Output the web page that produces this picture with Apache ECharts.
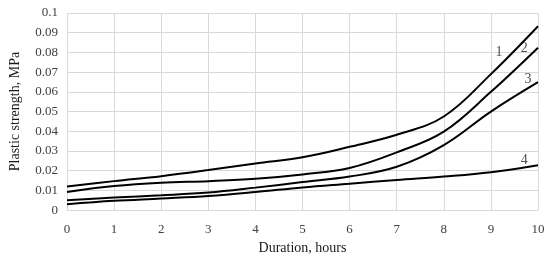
<!DOCTYPE html>
<html><head><meta charset="utf-8">
<script src="https://cdn.jsdelivr.net/npm/echarts@6/dist/echarts.min.js"></script>
<style>html,body{margin:0;padding:0;background:#fff}#c{width:550px;height:260px}</style>
</head><body><div id="c"></div>
<script>
const hours = [0,1,2,3,4,5,6,7,8,9,10];
const curve1 = [0.0120,0.0147,0.0172,0.0203,0.0237,0.0268,0.0321,0.0382,0.0475,0.0690,0.0933];
const curve2 = [0.0092,0.0122,0.0139,0.0147,0.0159,0.0181,0.0214,0.0293,0.0398,0.0600,0.0824];
const curve3 = [0.0050,0.0064,0.0075,0.0089,0.0114,0.0142,0.0170,0.0220,0.0330,0.0500,0.0649];
const curve4 = [0.0030,0.0047,0.0059,0.0072,0.0092,0.0115,0.0134,0.0153,0.0170,0.0192,0.0228];
const curveNames = ['1','2','3','4'];
const labelX = [9.17,9.71,9.79,9.71];
const labelY = [0.080,0.082,0.0665,0.0254];
const xTicks = [0,1,2,3,4,5,6,7,8,9,10];
const yTicks = [0,0.01,0.02,0.03,0.04,0.05,0.06,0.07,0.08,0.09,0.1];

const font = '"Liberation Serif","Times New Roman",serif';
const curves = [curve1,curve2,curve3,curve4];
const series = curves.map((c,i)=>({
  type:'line', smooth:0.38, symbol:'none',
  lineStyle:{color:'#000',width:2},
  data: hours.map((h,j)=>[h,c[j]])
}));
series.push({
  type:'scatter', symbolSize:0,
  data: curveNames.map((n,i)=>({value:[labelX[i],labelY[i]],name:n})),
  label:{show:true,formatter:p=>p.name,position:'inside',color:'#222',fontFamily:font,fontSize:14}
});
const chart = echarts.init(document.getElementById('c'));
chart.setOption({
  animation:false,
  grid:{left:59,right:12,top:13,bottom:47},
  xAxis:{type:'value',min:0,max:10,interval:1,
    name:'Duration, hours',nameLocation:'middle',nameGap:30,
    nameTextStyle:{fontFamily:font,fontSize:14,color:'#1a1a1a'},
    axisLine:{show:true,lineStyle:{color:'#d9d9d9'}},axisTick:{show:false},
    axisLabel:{margin:13,fontFamily:font,fontSize:13,color:'#404040',formatter:v=>xTicks.includes(v)?String(v):''},
    splitLine:{show:true,lineStyle:{color:'#d9d9d9'}}},
  yAxis:{type:'value',min:0,max:0.1,interval:0.01,
    name:'Plastic strength, MPa',nameLocation:'middle',nameGap:45,nameRotate:90,
    nameTextStyle:{fontFamily:font,fontSize:14,color:'#1a1a1a'},
    axisLine:{show:false},axisTick:{show:false},
    axisLabel:{margin:9,fontFamily:font,fontSize:13,color:'#404040',formatter:v=>String(+v.toFixed(2))},
    splitLine:{show:true,lineStyle:{color:'#d9d9d9'}}},
  series
});
</script></body></html>
